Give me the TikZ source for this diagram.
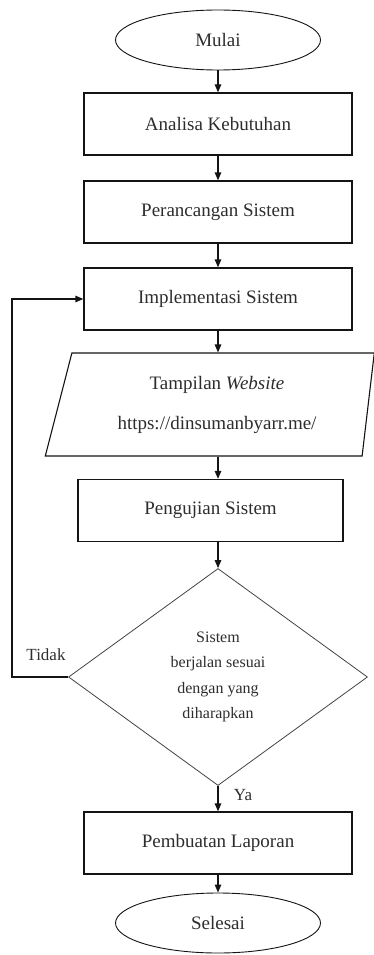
\documentclass[tikz,border=0pt]{standalone}
\usepackage{fontspec}
\setmainfont{Liberation Serif}
\usetikzlibrary{shapes.geometric,arrows.meta}
\definecolor{flowline}{RGB}{20,20,20}
\definecolor{flowtext}{RGB}{45,45,45}

\begin{document}
\begin{tikzpicture}[x=1pt, y=-1pt,
    terminal/.style={ellipse, draw=flowline, line width=0.9pt, minimum width=205pt, minimum height=60pt, text=flowtext, font=\fontsize{19}{22}\selectfont},
    process/.style={rectangle, draw=flowline, line width=1.3pt, minimum width=268pt, minimum height=62pt, text=flowtext, font=\fontsize{19}{22}\selectfont},
    inout/.style={trapezium, trapezium left angle=75, trapezium right angle=97, trapezium stretches body, draw=flowline, line width=1.1pt, inner ysep=21pt, minimum height=103pt, minimum width=329pt, align=center, text=flowtext, font=\fontsize{19}{40}\selectfont},
    decision/.style={diamond, aspect=1.37, draw=flowline!80, line width=0.8pt, minimum width=299pt, minimum height=217pt, inner sep=0pt, align=center, text=flowtext, font=\fontsize{16}{25.5}\selectfont},
    flow/.style={draw=flowline, line width=1.3pt, -{Triangle[length=8pt,width=6.5pt]}},
    lbl/.style={text=flowtext, font=\fontsize{17}{20}\selectfont}]
    \useasboundingbox (0,0) rectangle (374,955);

    % Steps of the flow
    \node[terminal] (mulai) at (218,40) {Mulai};
    \node[process] (analisa) at (218,124) {Analisa Kebutuhan};
    \node[process] (rancang) at (218,212) {Perancangan Sistem};
    \node[process] (implement) at (218,299) {Implementasi Sistem};
    \node[inout] (website) at (217,404.5) {Tampilan \textit{Website}\\https://dinsumanbyarr.me/};
    \node[process, minimum width=265pt] (uji) at (210.5,510.5) {Pengujian Sistem};
    \node[decision] (cek) at (218,677) {Sistem\\berjalan sesuai\\dengan yang\\diharapkan};
    \node[process] (laporan) at (218,843) {Pembuatan Laporan};
    \node[terminal] (selesai) at (218,923) {Selesai};

    % Arrows down the flow
    \draw[flow] (mulai) -- (analisa);
    \draw[flow] (analisa) -- (rancang);
    \draw[flow] (rancang) -- (implement);
    \draw[flow] (implement.south) -- (implement.south |- website.north);
    \draw[flow] (cek.north |- website.south) -- (cek.north |- uji.north);
    \draw[flow] (cek.north |- uji.south) -- (cek.north);
    \draw[flow] (cek) -- (laporan);
    \draw[flow] (laporan) -- (selesai);

    % Back to implementation
    \draw[flow] (cek.west) -- ++(-56,0) |- (implement.west);
    \node[lbl] (tidak) at (46,655) {Tidak};
    \node[lbl] (ya) at (243,795) {Ya};
\end{tikzpicture}
\end{document}
